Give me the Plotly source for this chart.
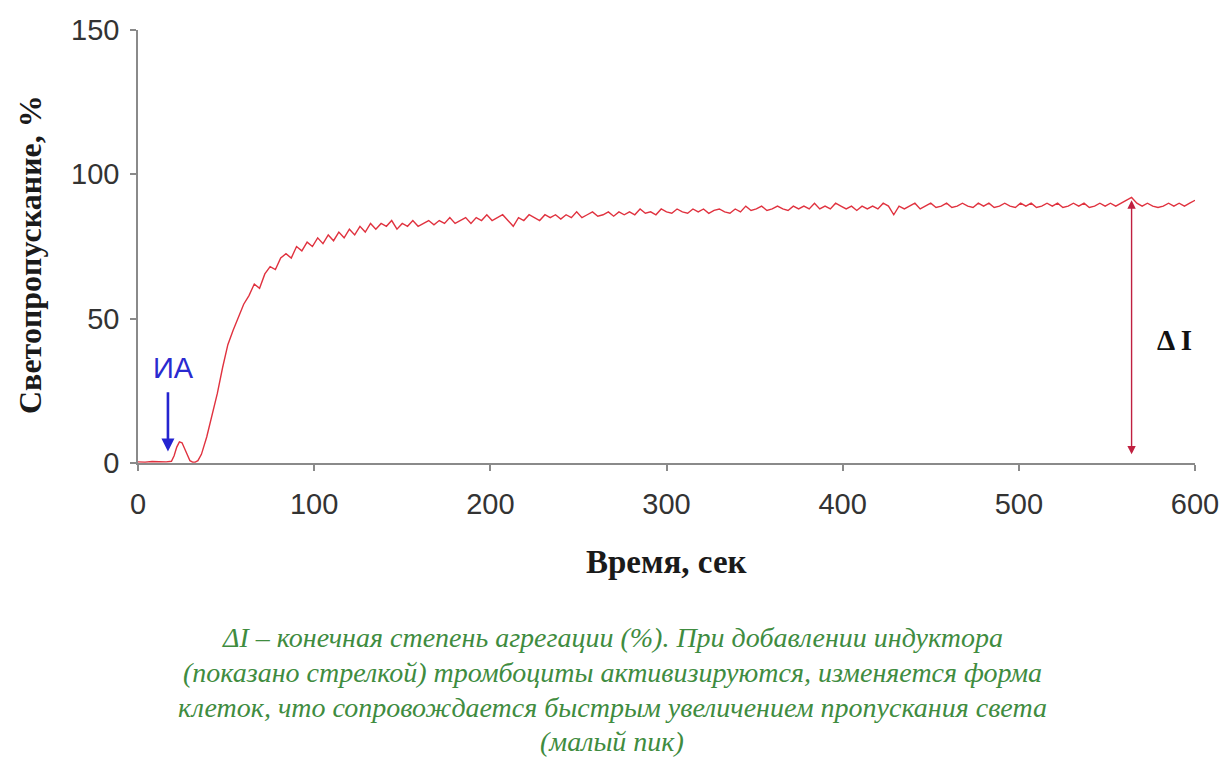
import plotly.graph_objects as go

# ---- data ----
t_early = [0, 4, 8, 12, 16, 19, 20.5, 22, 23.5, 25, 26.5, 28, 29.5, 31, 32.5, 34]
y_early = [0.4, 0.3, 0.5, 0.4, 0.4, 0.6, 2.5, 5.5, 7.3, 7.0, 5.0, 2.5, 0.8, 0.3, 0.3, 0.8]

t_main = list(range(36, 601, 3))
y_main = [
    3, 9, 16, 24, 33, 41, 46, 50.5, 55, 58,
    62, 60.5, 65.5, 68, 67, 71, 72.5, 71, 75, 73.5,
    76.5, 75, 78, 76, 79, 77, 80, 78, 81, 79,
    82, 80, 83, 81, 83, 82, 84, 81, 83, 82,
    84, 82, 83, 84, 82.5, 84, 83, 85, 83, 84,
    85, 83, 85, 84, 86, 84, 85, 86, 84, 82,
    85, 84, 86, 85, 84, 86, 85, 86, 84.5, 86,
    85, 87, 85, 86, 87, 85.5, 86, 87, 85.5, 87,
    86, 87, 86, 88, 86.5, 87, 86, 88, 87, 86.5,
    88, 87, 86.5, 88, 87, 88, 86.5, 87.5, 88, 87,
    86.5, 88, 87, 89, 87.5, 88, 89, 87.5, 88, 89,
    88, 87.5, 89, 88, 89, 88, 90, 88, 89, 88,
    90, 89, 88, 89, 87.5, 89, 88, 89, 88, 90,
    89, 86, 89, 88, 89, 90, 88, 89, 90, 88.5,
    89, 90, 88.5, 89, 90, 89, 88.5, 90, 89, 90,
    88.5, 89, 90, 89, 88.5, 90, 89, 90, 88.5, 89,
    90, 89, 90, 88.5, 89, 90, 89, 90, 88.5, 89,
    90, 89, 90, 89, 90, 91, 92, 90, 89, 90,
    89, 88.5, 89, 90, 89, 90, 89, 90, 91,
]
time_s = t_early + t_main
transmission = y_early + y_main

x_ticks = [0, 100, 200, 300, 400, 500, 600]
y_ticks = [0, 50, 100, 150]

delta_x = 564
delta_y0 = 2.5
delta_y1 = 91
ia_x = 17
ia_y0 = 25
ia_y1 = 4

caption = [
    "ΔI – конечная степень агрегации (%). При добавлении индуктора",
    "(показано стрелкой) тромбоциты активизируются, изменяется форма",
    "клеток, что сопровождается быстрым увеличением пропускания света",
    "(малый пик)",
]

# ---- figure ----
W, H = 1223, 782
L, R, T, B = 138, 28, 30, 319
plot_h = H - T - B


def py(pix_y):
    """pixel y -> paper y"""
    return (H - B - pix_y) / plot_h


def px(pix_x):
    return (pix_x - L) / (W - L - R)


fig = go.Figure()
fig.add_trace(go.Scatter(
    x=time_s, y=transmission, mode="lines",
    line=dict(color="#e0323f", width=1.4),
    hoverinfo="skip", showlegend=False,
))

axis_common = dict(
    showline=True, linecolor="#8a8a8a", linewidth=1.5,
    ticks="outside", ticklen=6, tickcolor="#8a8a8a", tickwidth=1.5,
    showgrid=False, zeroline=False, automargin=False,
    tickfont=dict(family="Liberation Sans, Arial", size=29, color="#333333"),
)
fig.update_xaxes(range=[0, 600], tickvals=x_ticks, ticklabelstandoff=8, **axis_common)
fig.update_yaxes(range=[0, 150], tickvals=y_ticks, ticklabelstandoff=5, **axis_common)

ann = []
# axis titles
ann.append(dict(text="<b>Светопропускание, %</b>", xref="paper", yref="paper",
                x=px(30), y=py(255), textangle=-90, showarrow=False,
                xanchor="center", yanchor="middle",
                font=dict(family="Liberation Serif", size=32, color="#1a1a1a")))
ann.append(dict(text="<b>Время, сек</b>", xref="paper", yref="paper",
                x=px(666), y=py(562), showarrow=False,
                xanchor="center", yanchor="middle",
                font=dict(family="Liberation Serif", size=33, color="#1a1a1a")))
# ΔI arrow
ann.append(dict(x=delta_x, y=delta_y1, ax=delta_x, ay=delta_y0, xref="x", yref="y",
                axref="x", ayref="y", showarrow=True, arrowhead=2, startarrowhead=2,
                arrowside="end+start", arrowsize=1.2, arrowwidth=1.4,
                arrowcolor="#c02040", text=""))
ann.append(dict(text="<b>Δ I</b>", x=588.5, y=42.5, xref="x", yref="y", showarrow=False,
                xanchor="center", yanchor="middle",
                font=dict(family="Liberation Serif", size=29, color="#111111")))
# ИА arrow
ann.append(dict(x=ia_x, y=ia_y1, ax=ia_x, ay=ia_y0, xref="x", yref="y",
                axref="x", ayref="y", showarrow=True, arrowhead=2, arrowsize=1.0,
                arrowwidth=2.6, arrowcolor="#2424d0", text=""))
ann.append(dict(text="ИА", x=20, y=33, xref="x", yref="y", showarrow=False,
                xanchor="center", yanchor="middle",
                font=dict(family="Liberation Sans, Arial", size=29, color="#2a2ad0")))
# caption
cap_y = [637, 672, 707, 741]
for line, yy in zip(caption, cap_y):
    ann.append(dict(text="<i>" + line + "</i>", xref="paper", yref="paper",
                    x=px(612), y=py(yy), showarrow=False,
                    xanchor="center", yanchor="middle",
                    font=dict(family="Liberation Serif", size=28, color="#3f8c3f")))

fig.update_layout(
    width=W, height=H, margin=dict(l=L, r=R, t=T, b=B),
    plot_bgcolor="white", paper_bgcolor="white",
    annotations=ann,
)
fig.write_html("out.html")
